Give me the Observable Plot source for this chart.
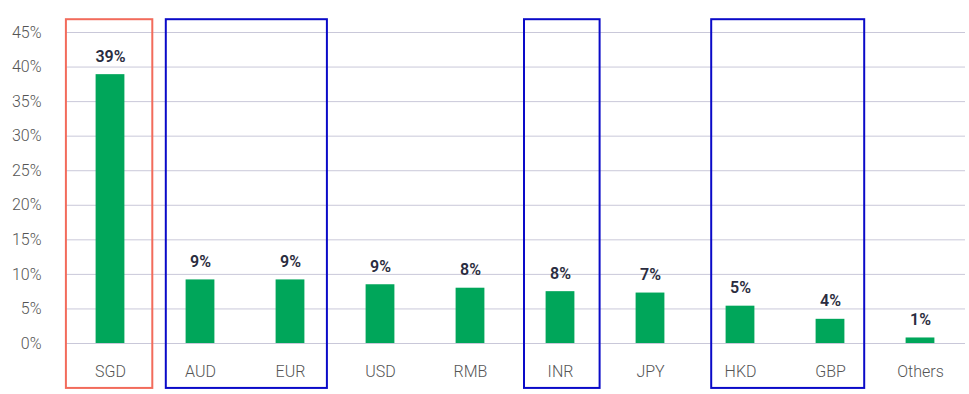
<!DOCTYPE html>
<html>
<head>
<meta charset="utf-8">
<script src="https://cdn.jsdelivr.net/npm/d3@7"></script>
<script src="https://cdn.jsdelivr.net/npm/@observablehq/plot@0.6"></script>
<style>
  html, body { margin: 0; padding: 0; background: #fff; }
  #chart svg { display: block; }
</style>
</head>
<body>
<div id="chart"></div>
<script>
const categories = ["SGD", "AUD", "EUR", "USD", "RMB", "INR", "JPY", "HKD", "GBP", "Others"];
const values = [38.9, 9.2, 9.2, 8.5, 8.0, 7.5, 7.3, 5.4, 3.5, 0.8];
const valueLabels = ["39%", "9%", "9%", "9%", "8%", "8%", "7%", "5%", "4%", "1%"];
const yTicks = [0, 5, 10, 15, 20, 25, 30, 35, 40, 45];
// highlight groups: [first category, last category, colour]
const groupFirst = ["SGD", "AUD", "INR", "HKD"];
const groupLast = ["SGD", "EUR", "INR", "GBP"];
const groupColor = ["#f26b5b", "#0a0ac8", "#0a0ac8", "#0a0ac8"];

const bars = categories.map((c, i) => ({i, c, v: values[i], label: valueLabels[i]}));
const idx = c => categories.indexOf(c);
const boxes = groupFirst.map((f, k) => ({
  x1: idx(f) - 0.49 + (k === 0 ? 0 : 0.11),
  x2: idx(groupLast[k]) + (k === 0 ? 0.47 : k === 1 ? 0.41 : k === 2 ? 0.44 : 0.38),
  color: groupColor[k]
}));
boxes[2].x1 = idx("INR") - 0.4;
boxes[3].x1 = idx("HKD") - 0.32;

const half = 0.16;
const chart = Plot.plot({
  width: 969,
  height: 394,
  marginLeft: 65,
  marginRight: 4,
  marginTop: 32,
  marginBottom: 51,
  style: {fontFamily: "Roboto, 'Noto Sans', sans-serif", fontSize: "15px", background: "#fff"},
  x: {type: "linear", domain: [-0.5, 9.5], axis: null, label: null},
  y: {domain: [0, 45], axis: null, label: null},
  marks: [
    Plot.ruleY(yTicks, {stroke: "#c9c8d9", strokeWidth: 1}),
    Plot.rect(bars, {x1: d => d.i - half, x2: d => d.i + half, y1: 0, y2: "v", fill: "#00a65a"}),
    Plot.text(bars, {x: "i", y: "v", text: "label", dy: -18, fill: "#2a2c40", fontWeight: 600, fontSize: 16}),
    Plot.axisY({ticks: yTicks, tickSize: 0, tickPadding: 24, tickFormat: d => d + "%", fill: "#555", fontSize: 16, fontWeight: 300, label: null}),
    Plot.axisX({ticks: d3.range(categories.length), tickFormat: i => categories[i], tickSize: 0, tickPadding: 22, fill: "#555", fontSize: 16, fontWeight: 300, label: null}),
    Plot.rect(boxes, {x1: "x1", x2: "x2", y1: -6.5, y2: 46.85, fill: "none", stroke: "color", strokeWidth: 2})
  ]
});
document.getElementById("chart").appendChild(chart);
</script>
</body>
</html>
